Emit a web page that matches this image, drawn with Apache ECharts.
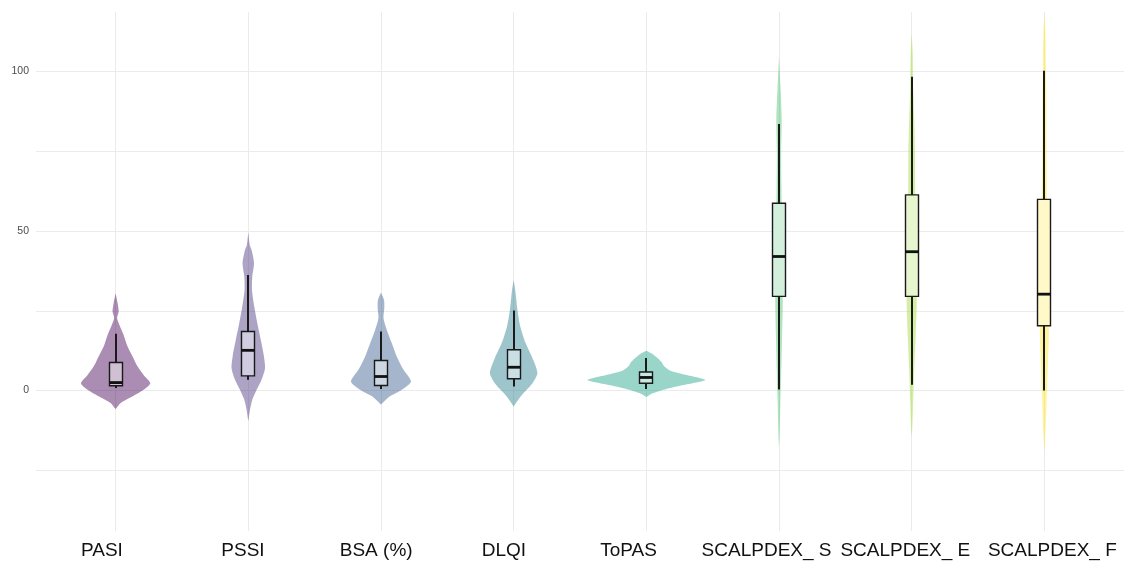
<!DOCTYPE html>
<html>
<head>
<meta charset="utf-8">
<script src="https://cdn.jsdelivr.net/npm/echarts@6/dist/echarts.min.js"></script>
<style>
html, body { margin: 0; padding: 0; background: #fff; }
#chart { width: 1135px; height: 563px; }
</style>
</head>
<body>
<div id="chart"></div>
<script>
// categories and colours (viridis, 8 groups)
const categories = ['PASI', 'PSSI', 'BSA (%)', 'DLQI', 'ToPAS', 'SCALPDEX_ S', 'SCALPDEX_ E', 'SCALPDEX_ F'];
const colors = ['#440154', '#46337E', '#365C8D', '#277F8E', '#1FA187', '#4AC16D', '#9FDA3A', '#FDE725'];
// where each category label sits on the x scale (labels are not exactly centred)
const labelPositions = [0.897, 1.96, 2.964, 3.927, 4.866, 5.906, 6.952, 8.06];

// box stats: [lower whisker, Q1, median, Q3, upper whisker]
const boxPASI = [0.8, 1.5, 2.5, 8.8, 17.8];
const boxPSSI = [3.4, 4.6, 12.6, 18.5, 36.2];
const boxBSA = [0.5, 1.6, 4.4, 9.4, 18.5];
const boxDLQI = [1.3, 3.7, 7.3, 12.8, 25.1];
const boxToPAS = [0.5, 2.3, 4.1, 5.8, 10.2];
const boxScalpS = [0.3, 29.5, 42, 58.7, 83.5];
const boxScalpE = [1.8, 29.5, 43.5, 61.3, 98.3];
const boxScalpF = [0, 20.3, 30.2, 59.9, 100.2];

// violin outlines: [value, density half-width in % of category spacing]
const violinPASI = [[30.5, 0], [27.4, 1.5], [24.8, 2.3], [22.7, 1.1], [20, 3.4], [17.5, 6], [13.8, 9], [10.7, 12.8], [7.5, 16.6], [4.9, 21.1], [2.3, 26.1], [0.25, 21.1], [-1.8, 12.8], [-3.9, 3.8], [-5.8, 0]];
const violinPSSI = [[49.6, 0], [45.6, 1.1], [44, 2.5], [39.9, 4.3], [35.7, 3], [31.5, 2.8], [26.3, 4.5], [21.1, 6.8], [15.9, 9.4], [10.7, 11.8], [7, 12.6], [3.4, 10], [0.25, 6.3], [-2.9, 3], [-6, 1.3], [-9.6, 0]];
const violinBSA = [[30.7, 0], [28.4, 2.3], [25.8, 2.5], [22.7, 1.9], [19, 4.4], [14.9, 8.1], [10.7, 11.9], [6.5, 17], [2.8, 22.6], [0.25, 15.8], [-1.8, 6.8], [-3.4, 2.3], [-4.4, 0]];
const violinDLQI = [[34.7, 0], [30.5, 1.5], [25.3, 2.8], [20.1, 5], [14.9, 9], [9.6, 14.8], [5.5, 17.9], [2.3, 14.2], [-0.8, 7.5], [-3.4, 2.5], [-5, 0]];
const violinToPAS = [[12.5, 0], [11.7, 3.8], [10.5, 7.5], [9, 11.3], [7.5, 13.6], [6.2, 18.1], [5, 28.6], [4, 39.2], [3.3, 44.5], [2.5, 37.7], [1.5, 25.6], [0.5, 15.1], [-0.8, 5.3], [-2, 0]];
const violinScalpS = [[104.6, 0], [95, 1.1], [85, 2], [74.4, 1.6], [64, 1.8], [50, 2.2], [40, 2.5], [27.4, 2.8], [17, 2.3], [6.5, 1.7], [-3.8, 1], [-14.4, 0.4], [-17.5, 0]];
const violinScalpE = [[111.9, 0], [105.6, 0.8], [95, 1.1], [85, 1.9], [74.4, 2.5], [64, 2.6], [50, 3], [40, 3.4], [27.4, 3.8], [17, 3], [6.5, 1.9], [-3.8, 1.1], [-11.3, 0.5], [-14.4, 0]];
const violinScalpF = [[118, 0], [112, 0.8], [101.4, 1.1], [91, 1.5], [80.6, 1.5], [70, 1.7], [50, 2.3], [30, 2.8], [18, 3.4], [7.5, 2.6], [-2.9, 1.7], [-13.3, 0.8], [-19.5, 0]];

// axis ticks
const yLabels = [0, 50, 100];
const yGridLines = [-25, 0, 25, 50, 75, 100];

const boxes = [boxPASI, boxPSSI, boxBSA, boxDLQI, boxToPAS, boxScalpS, boxScalpE, boxScalpF];
const violins = [violinPASI, violinPSSI, violinBSA, violinDLQI, violinToPAS, violinScalpS, violinScalpE, violinScalpF];

// mix a hex colour with white (alpha a), opaque result
function tint(hex, a) {
	const n = parseInt(hex.slice(1), 16);
	const r = Math.round(255 - a * (255 - (n >> 16)));
	const g = Math.round(255 - a * (255 - ((n >> 8) & 255)));
	const b = Math.round(255 - a * (255 - (n & 255)));
	return 'rgb(' + r + ',' + g + ',' + b + ')';
}

const seriesData = boxes.map((b, i) => [i + 1].concat(b));

const gridLineData = yGridLines.map(v => ({ yAxis: v }))
	.concat(categories.map((c, i) => ({ xAxis: i + 1 })));

function renderViolin(params, api) {
	const i = params.dataIndex;
	const x = api.value(0);
	const unit = api.size([1, 0])[0];
	const outline = violins[i];
	const pts = [];
	outline.forEach(([val, w]) => {
		const p = api.coord([x, val]);
		pts.push([p[0] + w / 100 * unit, p[1]]);
	});
	for (let k = outline.length - 1; k >= 0; k--) {
		const p = api.coord([x, outline[k][0]]);
		pts.push([p[0] - outline[k][1] / 100 * unit, p[1]]);
	}
	const cx = Math.round(api.coord([x, 0])[0]);
	const lo = api.coord([x, api.value(1)])[1];
	const q1 = api.coord([x, api.value(2)])[1];
	const med = api.coord([x, api.value(3)])[1];
	const q3 = api.coord([x, api.value(4)])[1];
	const hi = api.coord([x, api.value(5)])[1];
	const half = 7;
	return {
		type: 'group',
		children: [{
			type: 'polygon',
			shape: { points: pts, smooth: 0.25 },
			style: { fill: colors[i], opacity: 0.45 }
		}, {
			type: 'line',
			shape: { x1: cx, y1: lo, x2: cx, y2: hi },
			style: { stroke: '#1a1a1a', lineWidth: 2 }
		}, {
			type: 'rect',
			shape: { x: cx - half + 0.5, y: q3, width: half * 2 - 1, height: q1 - q3 },
			style: { fill: tint(colors[i], 0.25), stroke: '#1a1a1a', lineWidth: 1.4 }
		}, {
			type: 'line',
			shape: { x1: cx - half + 0.5, y1: med, x2: cx + half - 0.5, y2: med },
			style: { stroke: '#111', lineWidth: 2.8 }
		}]
	};
}

const chart = echarts.init(document.getElementById('chart'));
chart.setOption({
	backgroundColor: '#fff',
	animation: false,
	grid: { left: 36, right: 11, top: 12, bottom: 32 },
	xAxis: {
		type: 'value',
		min: 0.4,
		max: 8.6,
		axisLine: { show: false },
		axisTick: { show: false },
		splitLine: { show: false },
		axisLabel: {
			customValues: labelPositions,
			formatter: v => categories[Math.round(v) - 1] || '',
			fontSize: 19,
			color: '#111',
			margin: 10,
			fontFamily: 'Liberation Sans, Arial, sans-serif'
		}
	},
	yAxis: {
		type: 'value',
		min: -44,
		max: 118.6,
		axisLine: { show: false },
		axisTick: { show: false },
		splitLine: { show: false },
		axisLabel: {
			customValues: yLabels,
			fontSize: 10.5,
			color: '#4d4d4d',
			margin: 7,
			fontFamily: 'Liberation Sans, Arial, sans-serif'
		}
	},
	series: [{
		type: 'line',
		data: [],
		z: 0,
		silent: true,
		markLine: {
			silent: true,
			z: 0,
			symbol: 'none',
			animation: false,
			label: { show: false },
			lineStyle: { color: '#ebebeb', width: 1, type: 'solid' },
			emphasis: { disabled: true },
			data: gridLineData
		}
	}, {
		type: 'custom',
		z: 3,
		renderItem: renderViolin,
		encode: { x: 0, y: [1, 2, 3, 4, 5] },
		data: seriesData
	}]
});
</script>
</body>
</html>
